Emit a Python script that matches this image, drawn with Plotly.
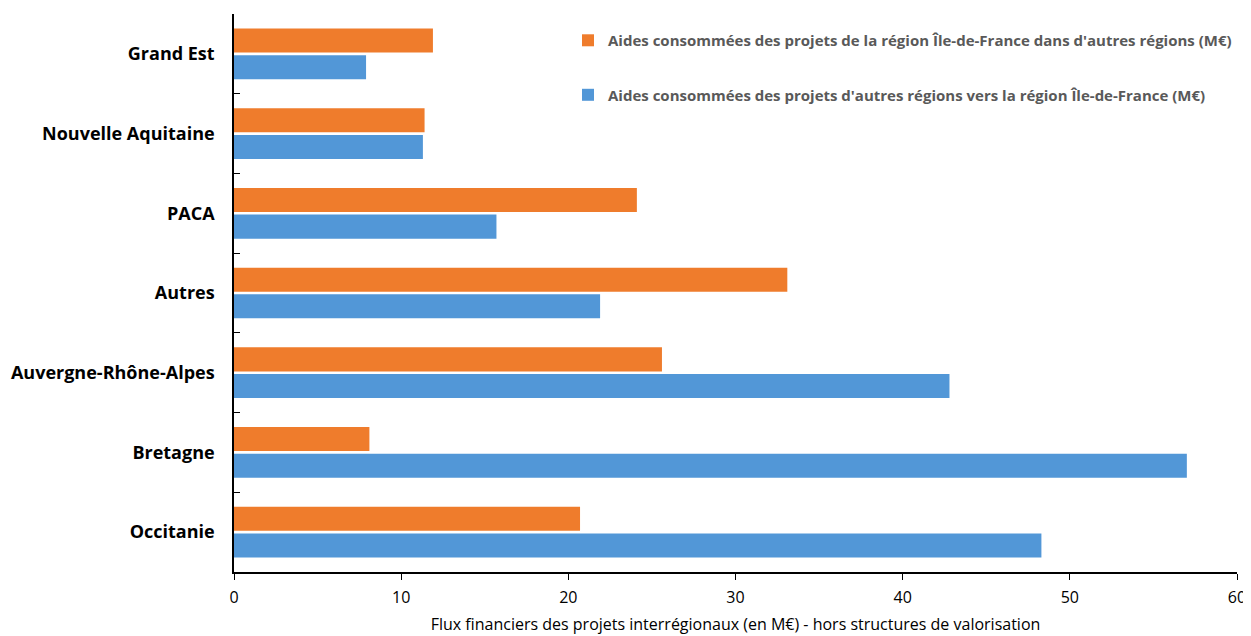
import plotly.graph_objects as go

regions = ["Grand Est", "Nouvelle Aquitaine", "PACA", "Autres",
           "Auvergne-Rhône-Alpes", "Bretagne", "Occitanie"]
idf_vers_autres = [11.9, 11.4, 24.1, 33.1, 25.6, 8.1, 20.7]
autres_vers_idf = [7.9, 11.3, 15.7, 21.9, 42.8, 57.0, 48.3]

name_orange = "Aides consommées des projets de la région Île-de-France dans d'autres régions (M€)"
name_blue = "Aides consommées des projets d'autres régions vers la région Île-de-France (M€)"

fig = go.Figure()
fig.add_trace(go.Bar(y=regions, x=idf_vers_autres, orientation="h", name=name_orange,
                     legendgroup="a", marker=dict(color="#EF7C2C", line=dict(width=0))))
fig.add_trace(go.Bar(y=regions, x=autres_vers_idf, orientation="h", name=name_blue,
                     legendgroup="b", marker=dict(color="#5297D7", line=dict(width=0))))

fig.update_layout(
    width=1243, height=628,
    margin=dict(l=226, r=14, t=6, b=64),
    plot_bgcolor="white", paper_bgcolor="white",
    barmode="group", bargap=0.33, bargroupgap=0.1,
    font=dict(family="Open Sans, sans-serif", color="black", size=15),
    legend=dict(x=1, xanchor="right", y=0.982, yanchor="top",
                traceorder="grouped", tracegroupgap=32,
                font=dict(size=15, color="#595959", family="Open Sans, sans-serif", weight="bold"),
                bgcolor="rgba(0,0,0,0)", itemwidth=30),
    xaxis=dict(range=[0, 60], dtick=10, showgrid=False, zeroline=False, automargin=False,
               showline=True, linecolor="black", linewidth=1.5,
               ticks="outside", ticklen=6, tickcolor="black",
               tickfont=dict(size=16), ticklabelstandoff=4,
               title=dict(text="Flux financiers des projets interrégionaux (en M€) - hors structures de valorisation",
                          font=dict(size=16), standoff=12)),
    yaxis=dict(autorange="reversed", showgrid=False, showline=True, linecolor="black", linewidth=1.5,
               automargin=False,
               ticks="inside", ticklen=6, tickcolor="black", tickson="boundaries",
               tickfont=dict(size=18, weight="bold"), ticklabelstandoff=14),
)

fig.write_html("out.html")
